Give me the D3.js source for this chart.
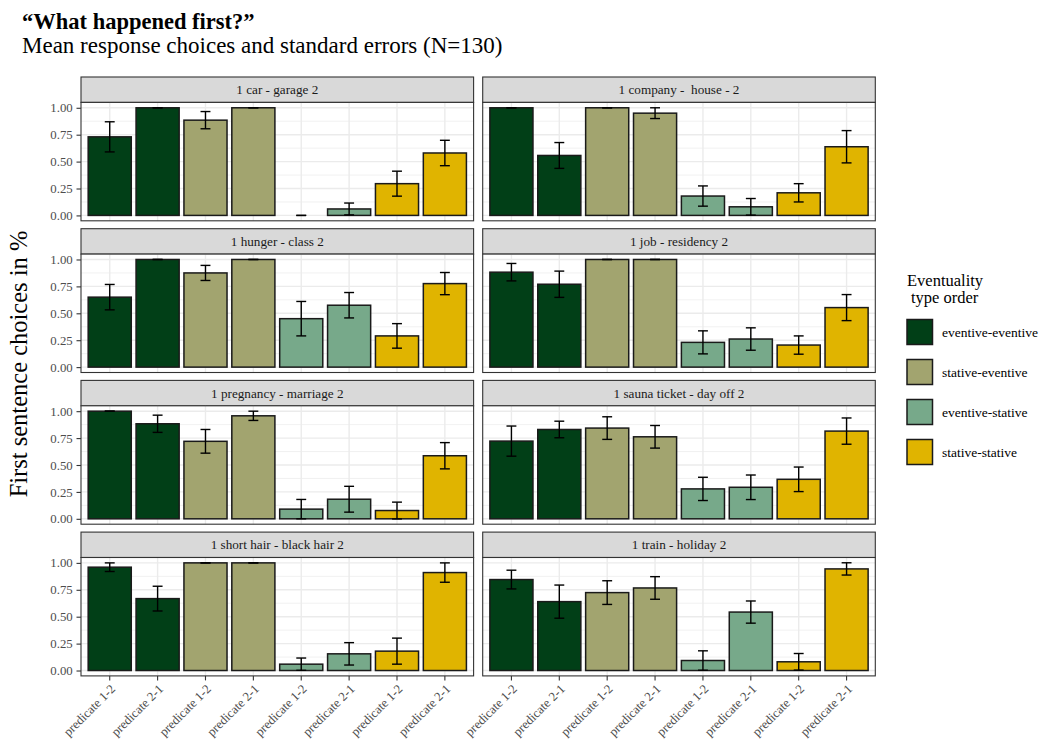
<!DOCTYPE html>
<html>
<head>
<meta charset="utf-8">
<script src="https://cdn.jsdelivr.net/npm/d3@7"></script>
<style>
  html, body { margin: 0; padding: 0; background: #ffffff; }
  svg { display: block; font-family: "Liberation Serif", "DejaVu Serif", serif; }
</style>
</head>
<body>
<svg id="chart" width="1043" height="745"></svg>
<script>
// Item pairs shown in each facet (left-to-right, top-to-bottom)
const panelTitles = [
  "1 car - garage 2",
  "1 company -  house - 2",
  "1 hunger - class 2",
  "1 job - residency 2",
  "1 pregnancy - marriage 2",
  "1 sauna ticket - day off 2",
  "1 short hair - black hair 2",
  "1 train - holiday 2"
];

// Eventuality type order groups, two predicate orders each
const typeOrders = ["eventive-eventive", "stative-eventive", "eventive-stative", "stative-stative"];
const predicateOrders = ["predicate 1-2", "predicate 2-1"];
const typeColors = ["#013f17", "#a2a46f", "#77a98a", "#e0b400"];

// Mean share of first-sentence choices, 8 bars per facet
const meanChoice = [
  [0.73, 1.00, 0.885, 1.00, 0.00, 0.06, 0.295, 0.58],
  [1.00, 0.557, 1.00, 0.95, 0.18, 0.08, 0.21, 0.638],
  [0.65, 1.00, 0.875, 1.00, 0.45, 0.575, 0.29, 0.776],
  [0.882, 0.77, 1.00, 1.00, 0.23, 0.261, 0.205, 0.553],
  [1.00, 0.883, 0.72, 0.957, 0.09, 0.182, 0.077, 0.586],
  [0.722, 0.83, 0.843, 0.762, 0.278, 0.293, 0.367, 0.815],
  [0.96, 0.668, 1.00, 1.00, 0.059, 0.155, 0.18, 0.91],
  [0.845, 0.64, 0.724, 0.767, 0.093, 0.543, 0.081, 0.944]
];

// Standard errors of those means
const stdError = [
  [0.14, 0.00, 0.08, 0.00, 0.00, 0.055, 0.116, 0.118],
  [0.00, 0.12, 0.00, 0.05, 0.094, 0.077, 0.085, 0.15],
  [0.118, 0.00, 0.07, 0.00, 0.16, 0.118, 0.114, 0.103],
  [0.081, 0.122, 0.00, 0.00, 0.107, 0.104, 0.085, 0.121],
  [0.00, 0.08, 0.11, 0.043, 0.09, 0.12, 0.078, 0.122],
  [0.14, 0.077, 0.105, 0.105, 0.108, 0.114, 0.114, 0.122],
  [0.04, 0.115, 0.00, 0.00, 0.057, 0.104, 0.121, 0.09],
  [0.087, 0.154, 0.11, 0.105, 0.09, 0.103, 0.077, 0.057]
];

const yTicks = [0, 0.25, 0.5, 0.75, 1.0];
const yMinor = [0.125, 0.375, 0.625, 0.875];

const svg = d3.select("#chart");

// Facet grid geometry
const colX = [81, 482.7];
const panelW = 392.6;
const rowTop0 = 77, rowPitch = 151.7;
const stripH = 25.4, panelH = 118.4;
const tickFont = 12.8;

// Category keys for the 8 bars of a facet
const barKeys = d3.range(8);
const barLabel = i => predicateOrders[i % 2];
const barType = i => Math.floor(i / 2);

const x = d3.scaleBand().domain(barKeys).range([0, panelW]).paddingInner(0.1).paddingOuter(0.15);
const xc = i => x(i) + x.bandwidth() / 2;
const y = d3.scaleLinear().domain([-0.05, 1.05]).range([panelH, 0]);

const fmt = d3.format(".2f");

panelTitles.forEach((title, p) => {
  const col = p % 2, row = Math.floor(p / 2);
  const stripTop = rowTop0 + row * rowPitch;
  const g = svg.append("g").attr("transform", `translate(${colX[col]},${stripTop})`);

  // strip header
  g.append("rect").attr("x", 0).attr("y", 0).attr("width", panelW).attr("height", stripH)
    .attr("fill", "#d9d9d9").attr("stroke", "#333333").attr("stroke-width", 1.1);
  g.append("text").attr("x", panelW / 2).attr("y", stripH / 2 + 4.6)
    .attr("text-anchor", "middle").attr("font-size", 13.2).attr("fill", "#1a1a1a")
    .attr("xml:space", "preserve").text(title);

  const pg = g.append("g").attr("transform", `translate(0,${stripH})`);
  pg.append("rect").attr("width", panelW).attr("height", panelH).attr("fill", "#ffffff");

  // grid
  pg.selectAll("line.minor").data(yMinor).join("line")
    .attr("x1", 0).attr("x2", panelW).attr("y1", d => y(d)).attr("y2", d => y(d))
    .attr("stroke", "#ebebeb").attr("stroke-width", 0.7);
  pg.selectAll("line.majory").data(yTicks).join("line")
    .attr("x1", 0).attr("x2", panelW).attr("y1", d => y(d)).attr("y2", d => y(d))
    .attr("stroke", "#ebebeb").attr("stroke-width", 1.4);
  pg.selectAll("line.majorx").data(barKeys).join("line")
    .attr("x1", d => xc(d)).attr("x2", d => xc(d)).attr("y1", 0).attr("y2", panelH)
    .attr("stroke", "#ebebeb").attr("stroke-width", 1.4);

  const rows = barKeys.map(i => ({ i, m: meanChoice[p][i], s: stdError[p][i] }));

  // bars
  pg.selectAll("rect.bar").data(rows).join("rect")
    .attr("x", d => x(d.i)).attr("width", x.bandwidth())
    .attr("y", d => y(d.m)).attr("height", d => y(0) - y(d.m))
    .attr("fill", d => typeColors[barType(d.i)])
    .attr("stroke", "#1a1a1a").attr("stroke-width", 1.5);

  // error bars
  const capW = x.bandwidth() * 0.23;
  const eb = pg.selectAll("g.err").data(rows).join("g")
    .attr("stroke", "#000000").attr("stroke-width", 1.4).attr("fill", "none");
  eb.append("line").attr("x1", d => xc(d.i)).attr("x2", d => xc(d.i))
    .attr("y1", d => y(d.m + d.s)).attr("y2", d => y(d.m - d.s));
  eb.append("line").attr("x1", d => xc(d.i) - capW / 2).attr("x2", d => xc(d.i) + capW / 2)
    .attr("y1", d => y(d.m + d.s)).attr("y2", d => y(d.m + d.s));
  eb.append("line").attr("x1", d => xc(d.i) - capW / 2).attr("x2", d => xc(d.i) + capW / 2)
    .attr("y1", d => y(d.m - d.s)).attr("y2", d => y(d.m - d.s));

  // panel border
  pg.append("rect").attr("width", panelW).attr("height", panelH)
    .attr("fill", "none").attr("stroke", "#333333").attr("stroke-width", 1.1);

  // y axis on the left column
  if (col === 0) {
    const ya = pg.append("g").call(d3.axisLeft(y).tickValues(yTicks).tickFormat(fmt).tickSize(4.5).tickPadding(3.8));
    ya.select(".domain").remove();
    ya.selectAll(".tick line").attr("stroke", "#333333").attr("stroke-width", 1.1);
    ya.selectAll(".tick text").attr("font-size", tickFont).attr("fill", "#4d4d4d")
      .attr("font-family", "Liberation Serif, serif");
  }

  // x axis on the bottom row
  if (row === 3) {
    const xa = pg.append("g").attr("transform", `translate(0,${panelH})`)
      .call(d3.axisBottom(x).tickFormat(barLabel).tickSize(4.5).tickPadding(0));
    xa.select(".domain").remove();
    xa.selectAll(".tick line").attr("stroke", "#333333").attr("stroke-width", 1.1);
    xa.selectAll(".tick text")
      .attr("font-size", tickFont).attr("fill", "#4d4d4d").attr("font-family", "Liberation Serif, serif")
      .attr("text-anchor", "end").attr("dy", null).attr("y", 0)
      .attr("transform", "translate(6.4,13.7) rotate(-45)");
  }
});

// titles
svg.append("text").attr("x", 22).attr("y", 29).attr("font-size", 22.5).attr("font-weight", "bold")
  .attr("fill", "#000000").text("\u201cWhat happened first?\u201d");
svg.append("text").attr("x", 22).attr("y", 53).attr("font-size", 23)
  .attr("fill", "#000000").text("Mean response choices and standard errors (N=130)");

// y axis title
svg.append("text").attr("transform", "translate(27,364) rotate(-90)")
  .attr("text-anchor", "middle").attr("font-size", 24.5).attr("fill", "#000000")
  .text("First sentence choices in %");

// legend
const lg = svg.append("g").attr("transform", "translate(907,0)");
lg.append("text").attr("x", 0).attr("y", 286).attr("font-size", 16.5).text("Eventuality");
lg.append("text").attr("x", 4).attr("y", 303).attr("font-size", 16.5).text("type order");
const keys = lg.selectAll("g.key").data(typeOrders).join("g")
  .attr("transform", (d, i) => `translate(0,${319.5 + i * 40})`);
keys.append("rect").attr("width", 25.5).attr("height", 25)
  .attr("fill", (d, i) => typeColors[i]).attr("stroke", "#1a1a1a").attr("stroke-width", 1.5);
keys.append("text").attr("x", 35).attr("y", 12.5).attr("dy", "0.35em")
  .attr("font-size", 13.5).attr("fill", "#000000").text(d => d);
</script>
</body>
</html>
